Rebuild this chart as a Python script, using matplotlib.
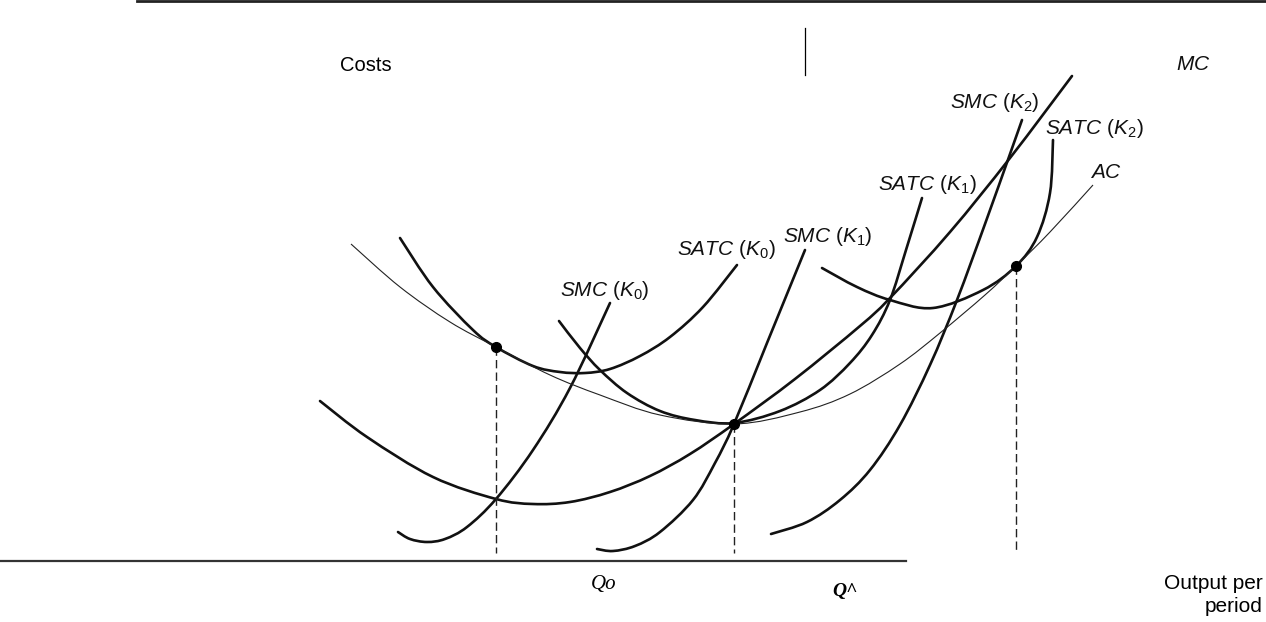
import matplotlib
matplotlib.use('Agg')
import matplotlib.pyplot as plt
from matplotlib.path import Path
from matplotlib.patches import PathPatch

plt.rcParams['font.family'] = ['Liberation Sans', 'DejaVu Sans']
plt.rcParams['mathtext.fontset'] = 'custom'
plt.rcParams['mathtext.it'] = 'Liberation Sans:italic'
plt.rcParams['mathtext.rm'] = 'Liberation Sans'
plt.rcParams['mathtext.bf'] = 'Liberation Sans:bold'

# curves: output q (pixels from left), cost c (pixel rows, top = 0)
ac_q = [351, 400, 450, 496, 550, 600, 660, 734, 800, 850, 900, 940, 985, 1016, 1050, 1093]
ac_c = [244, 287, 322, 347, 375, 395, 415, 424, 412, 394, 364, 333, 295, 266, 232, 185]

satc0_q = [400, 433, 473, 496, 533, 560, 585, 610, 640, 670, 703, 737]
satc0_c = [238, 287, 330, 347, 366, 372, 373, 369, 356, 337, 307, 265]

smc0_q = [398, 410, 427, 445, 467, 496, 533, 570, 610]
smc0_c = [532, 539, 542, 539, 527, 499, 450, 388, 303]

mc_q = [320, 367, 433, 496, 533, 570, 610, 650, 690, 734, 795, 860, 890, 950, 1010, 1072]
mc_c = [401, 437, 477, 499, 504, 502, 492, 476, 454, 424, 379, 326, 298, 232, 158, 76]

satc1_q = [559, 580, 600, 627, 660, 695, 734, 780, 820, 850, 872, 890, 906, 922]
satc1_c = [321, 348, 370, 393, 411, 420, 423, 411, 390, 363, 335, 300, 250, 198]

smc1_q = [597, 613, 635, 660, 693, 715, 734, 767, 805]
smc1_c = [549, 551, 546, 532, 500, 463, 424, 343, 250]

satc2_q = [822, 857, 890, 933, 983, 1016, 1037, 1050, 1053]
satc2_c = [268, 287, 300, 308, 290, 266, 237, 193, 140]

smc2_q = [771, 807, 840, 870, 900, 930, 957, 985, 1010, 1022]
smc2_c = [534, 522, 500, 470, 425, 365, 300, 224, 154, 120]

# tangency points (Q0, Q^, Q2)
dot_q = [496, 734, 1016]
dot_c = [347, 424, 266]
q_axis_c = 561

labels = [r'$SMC\ (K_0)$', r'$SATC\ (K_0)$', r'$SMC\ (K_1)$', r'$SATC\ (K_1)$',
          r'$SMC\ (K_2)$', r'$SATC\ (K_2)$', r'$AC$', r'$MC$']
label_q = [560, 677, 783, 878, 950, 1045, 1090, 1176]
label_c = [296, 255, 242, 190, 108, 134, 178, 70]


def smooth_path(q, c):
    # Catmull-Rom through the read points, drawn as cubic Bezier pieces
    pts = list(zip(q, c))
    n = len(pts)
    verts = [pts[0]]
    codes = [Path.MOVETO]
    for i in range(n - 1):
        p0 = pts[i - 1] if i > 0 else pts[i]
        p1 = pts[i]
        p2 = pts[i + 1]
        p3 = pts[i + 2] if i + 2 < n else pts[i + 1]
        c1 = (p1[0] + (p2[0] - p0[0]) / 6, p1[1] + (p2[1] - p0[1]) / 6)
        c2 = (p2[0] - (p3[0] - p1[0]) / 6, p2[1] - (p3[1] - p1[1]) / 6)
        verts += [c1, c2, p2]
        codes += [Path.CURVE4] * 3
    return Path(verts, codes)


fig = plt.figure(figsize=(12.66, 6.22), dpi=100)
ax = fig.add_axes([0, 0, 1, 1])
ax.set_xlim(0, 1266)
ax.set_ylim(622, 0)
ax.axis('off')

thick = [(satc0_q, satc0_c), (smc0_q, smc0_c), (mc_q, mc_c), (satc1_q, satc1_c),
         (smc1_q, smc1_c), (satc2_q, satc2_c), (smc2_q, smc2_c)]
for q, c in thick:
    ax.add_patch(PathPatch(smooth_path(q, c), fill=False, lw=1.9,
                           edgecolor='#111111', capstyle='round'))
ax.add_patch(PathPatch(smooth_path(ac_q, ac_c), fill=False, lw=0.8,
                       edgecolor='#222222'))

ax.vlines(dot_q, dot_c, [553] * 3, colors='#222222', lw=1.0,
          linestyles=[(0, (6, 3))])
ax.plot(dot_q, dot_c, 'o', color='black', markersize=7)

# frame lines
ax.plot([0, 906], [q_axis_c, q_axis_c], color='#333333', lw=1.6)
ax.plot([137, 1266], [1, 1], color='#222222', lw=2.0)
ax.plot([805, 805], [28, 75], color='black', lw=0.9)

for txt, q, c in zip(labels, label_q, label_c):
    ax.text(q, c, txt, fontsize=15, va='baseline', ha='left', color='#111111')

ax.text(340, 71, 'Costs', fontsize=14.5, va='baseline')
ax.text(1263, 589, 'Output per', fontsize=15, va='baseline', ha='right')
ax.text(1263, 612, 'period', fontsize=15, va='baseline', ha='right')
ax.text(591, 589, 'Qo', family='Liberation Serif', style='italic',
        fontsize=15, va='baseline')
ax.text(832, 596, 'Q^', family='Liberation Serif', style='italic',
        weight='bold', fontsize=14, va='baseline')

fig.savefig('out.png', dpi=100)
